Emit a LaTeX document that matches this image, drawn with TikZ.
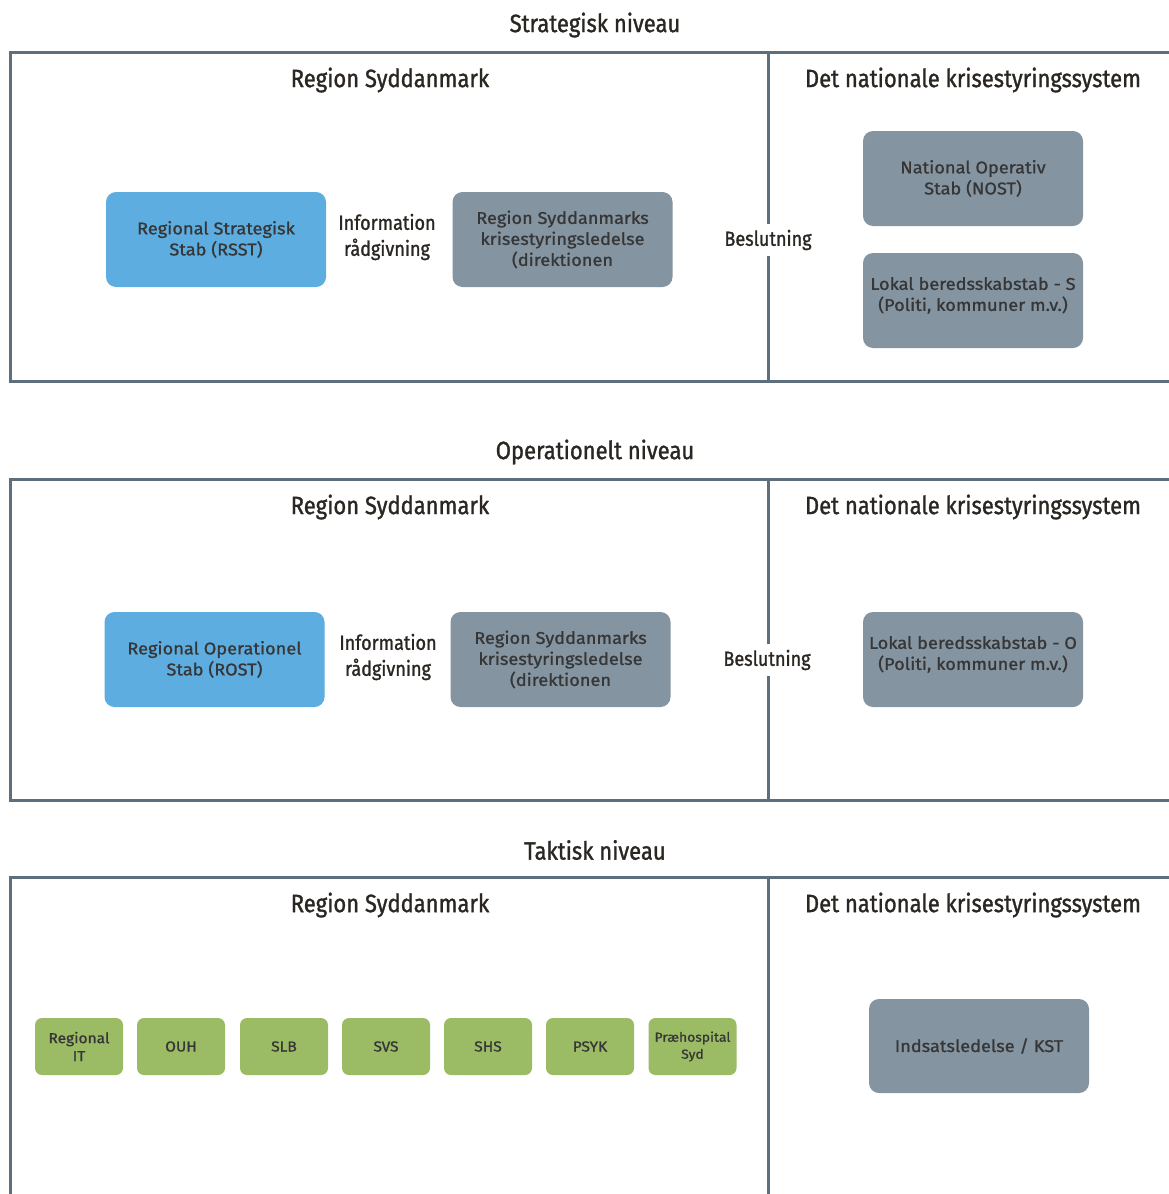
\documentclass[tikz,border=0pt]{standalone}
\usepackage{fontspec}
\setmainfont{Fira Sans}
\newfontfamily\headfont[FakeStretch=0.88,FakeBold=1.2]{Fira Sans}
\newfontfamily\boxfont[FakeStretch=1.07,FakeBold=1.0]{Fira Sans}
\definecolor{bluec}{HTML}{5DADE0}
\definecolor{greyc}{HTML}{8494A1}
\definecolor{greenc}{HTML}{9BBB65}
\definecolor{framec}{HTML}{5E6E7B}
\definecolor{boxtxt}{HTML}{363636}
\definecolor{txt}{HTML}{2A2622}
\tikzset{
  frame/.style={draw=framec, line width=3pt},
  title/.style={font=\headfont\fontsize{25}{29}\selectfont, text=txt, inner sep=0pt},
  lab/.style={font=\headfont\fontsize{20.5}{26}\selectfont, align=center, text=txt, inner sep=0pt},
  beslab/.style={lab, fill=white, inner xsep=2pt, inner ysep=6pt},
  box/.style={rounded corners=10pt, minimum width=220pt, minimum height=95pt, align=center,
    font=\boxfont\fontsize{17}{21}\selectfont, text=boxtxt, inner sep=0pt},
  bluebox/.style={box, fill=bluec},
  greybox/.style={box, fill=greyc},
  greenbox/.style={box, fill=greenc, rounded corners=7pt, minimum width=88pt, minimum height=57pt,
    font=\boxfont\fontsize{14.5}{18}\selectfont}
}
\begin{document}
\begin{tikzpicture}[x=1pt,y=-1pt]
\useasboundingbox[fill=white] (0,0) rectangle (1168,1194);

% ---------- Strategisk ----------
\node[title] (t1) at (595,25) {Strategisk niveau};
\draw[frame] (1172,52) -- (10,52) -- (10,381) -- (1172,381);
\draw[frame] (768,52) -- (768,381);
\node[title] (r1) at (390,80) {Region Syddanmark};
\node[title] (n1) at (973,80) {Det nationale krisestyringssystem};
\node[bluebox] (rsst) at (216,239.5) {Regional Strategisk\\Stab (RSST)};
\node[lab] (info1) at (387,237) {Information\\rådgivning};
\node[greybox] (rsk1) at (562.5,239.5) {Region Syddanmarks\\krisestyringsledelse\\(direktionen};
\node[beslab] (bes1) at (768,240) {Beslutning};
\node[greybox] (nost) at (973,178.5) {National Operativ\\Stab (NOST)};
\node[greybox] (loks) at (973,300.5) {Lokal beredsskabstab - S\\(Politi, kommuner m.v.)\\[-8pt]\mbox{}};

% ---------- Operationelt ----------
\node[title] (t2) at (595,452) {Operationelt niveau};
\draw[frame] (1172,479) -- (10,479) -- (10,800) -- (1172,800);
\draw[frame] (768,479) -- (768,800);
\node[title] (r2) at (390,507) {Region Syddanmark};
\node[title] (n2) at (973,507) {Det nationale krisestyringssystem};
\node[bluebox] (rost) at (214.5,659.5) {Regional Operationel\\Stab (ROST)};
\node[lab] (info2) at (388,657) {Information\\rådgivning};
\node[greybox] (rsk2) at (560.5,659.5) {Region Syddanmarks\\krisestyringsledelse\\(direktionen};
\node[beslab] (bes2) at (767,660) {Beslutning};
\node[greybox] (loko) at (973,659.5) {Lokal beredsskabstab - O\\(Politi, kommuner m.v.)\\[-8pt]\mbox{}};

% ---------- Taktisk ----------
\node[title] (t3) at (595,850) {Taktisk niveau};
\draw[frame] (10,1198) -- (10,877) -- (1172,877);
\draw[frame] (768,877) -- (768,1198);
\node[title] (r3) at (390,905) {Region Syddanmark};
\node[title] (n3) at (973,905) {Det nationale krisestyringssystem};
\node[greenbox] (rit) at (79,1046.5) {Regional\\IT};
\node[greenbox] (ouh) at (181,1046.5) {OUH};
\node[greenbox] (slb) at (284,1046.5) {SLB};
\node[greenbox] (svs) at (386,1046.5) {SVS};
\node[greenbox] (shs) at (488,1046.5) {SHS};
\node[greenbox] (psyk) at (590,1046.5) {PSYK};
\node[greenbox, font=\boxfont\fontsize{13}{17}\selectfont] (phs) at (692.5,1046.5) {Præhospital\\Syd};
\node[greybox, minimum height=94pt] (ind) at (979,1046) {Indsatsledelse / KST};
\end{tikzpicture}
\end{document}
